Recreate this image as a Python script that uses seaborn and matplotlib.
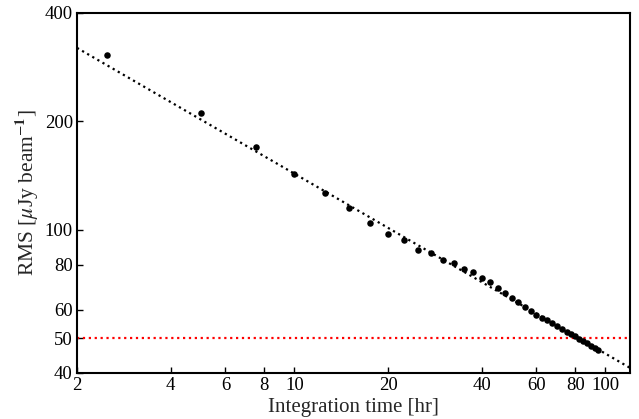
import matplotlib
matplotlib.use("Agg")
import matplotlib.pyplot as plt
import seaborn as sns
import numpy as np
import pandas as pd
from matplotlib.ticker import FixedLocator, FixedFormatter, NullLocator

# Data
times = [2.5, 5, 7.5, 10, 12.5, 15, 17.5, 20, 22.5, 25, 27.5, 30, 32.5, 35,
         37.5, 40, 42.5, 45, 47.5, 50, 52.5, 55, 57.5, 60, 62.5, 65, 67.5, 70,
         72.5, 75, 77.5, 80, 82.5, 85, 87.5, 90, 92.5, 95]
rms = [305, 211, 170, 143, 126.5, 115, 104.5, 97.5, 93.5, 88, 86, 82.4, 81, 78,
       76.5, 73.5, 71.5, 69, 66.5, 64.5, 63, 61, 59.5, 58, 57, 56, 55, 54,
       53, 52.1, 51.3, 50.5, 49.7, 49.0, 48.3, 47.6, 46.9, 46.2]
fit_norm = 452.5          # RMS at 1 hr of the t^-1/2 fit
fit_x = [2, 120]
threshold = 50
xticks = [2, 4, 6, 8, 10, 20, 40, 60, 80, 100]
yticks = [40, 50, 60, 80, 100, 200, 400]

sns.set_style("ticks")
plt.rcParams['font.family'] = ['Liberation Serif', 'DejaVu Serif']
plt.rcParams['mathtext.fontset'] = 'stix'

fig = plt.figure(figsize=(6.39, 4.19), dpi=100)
ax = fig.add_axes([0.1205, 0.110, 0.8655, 0.859])

df = pd.DataFrame({'t': times, 'rms': rms})
fit_df = pd.DataFrame({'t': fit_x, 'rms': [fit_norm / np.sqrt(x) for x in fit_x]})

sns.lineplot(data=fit_df, x='t', y='rms', ax=ax, color='black', linestyle=':',
             linewidth=1.6, zorder=2)
ax.axhline(threshold, color='red', linestyle=':', linewidth=1.6, zorder=1)
sns.scatterplot(data=df, x='t', y='rms', ax=ax, color='black', s=22,
                edgecolor='black', linewidth=0, zorder=3)

ax.set_xscale('log')
ax.set_yscale('log')
ax.set_xlim(2, 120)
ax.set_ylim(40, 400)
ax.xaxis.set_major_locator(FixedLocator(xticks))
ax.xaxis.set_major_formatter(FixedFormatter([str(v) for v in xticks]))
ax.yaxis.set_major_locator(FixedLocator(yticks))
ax.yaxis.set_major_formatter(FixedFormatter([str(v) for v in yticks]))
ax.xaxis.set_minor_locator(NullLocator())
ax.yaxis.set_minor_locator(NullLocator())
ax.tick_params(direction='in', length=4, width=1, labelsize=13.5, colors='black',
               pad=3)
for sp in ax.spines.values():
    sp.set_visible(True)
    sp.set_linewidth(1.5)
    sp.set_color('black')

ax.set_xlabel('Integration time [hr]', fontsize=15, labelpad=3)
ax.set_ylabel(r'RMS [$\mu$Jy beam$^{-\mathbf{1}}$]', fontsize=15.5, labelpad=3)

fig.savefig('out.png', dpi=100)
